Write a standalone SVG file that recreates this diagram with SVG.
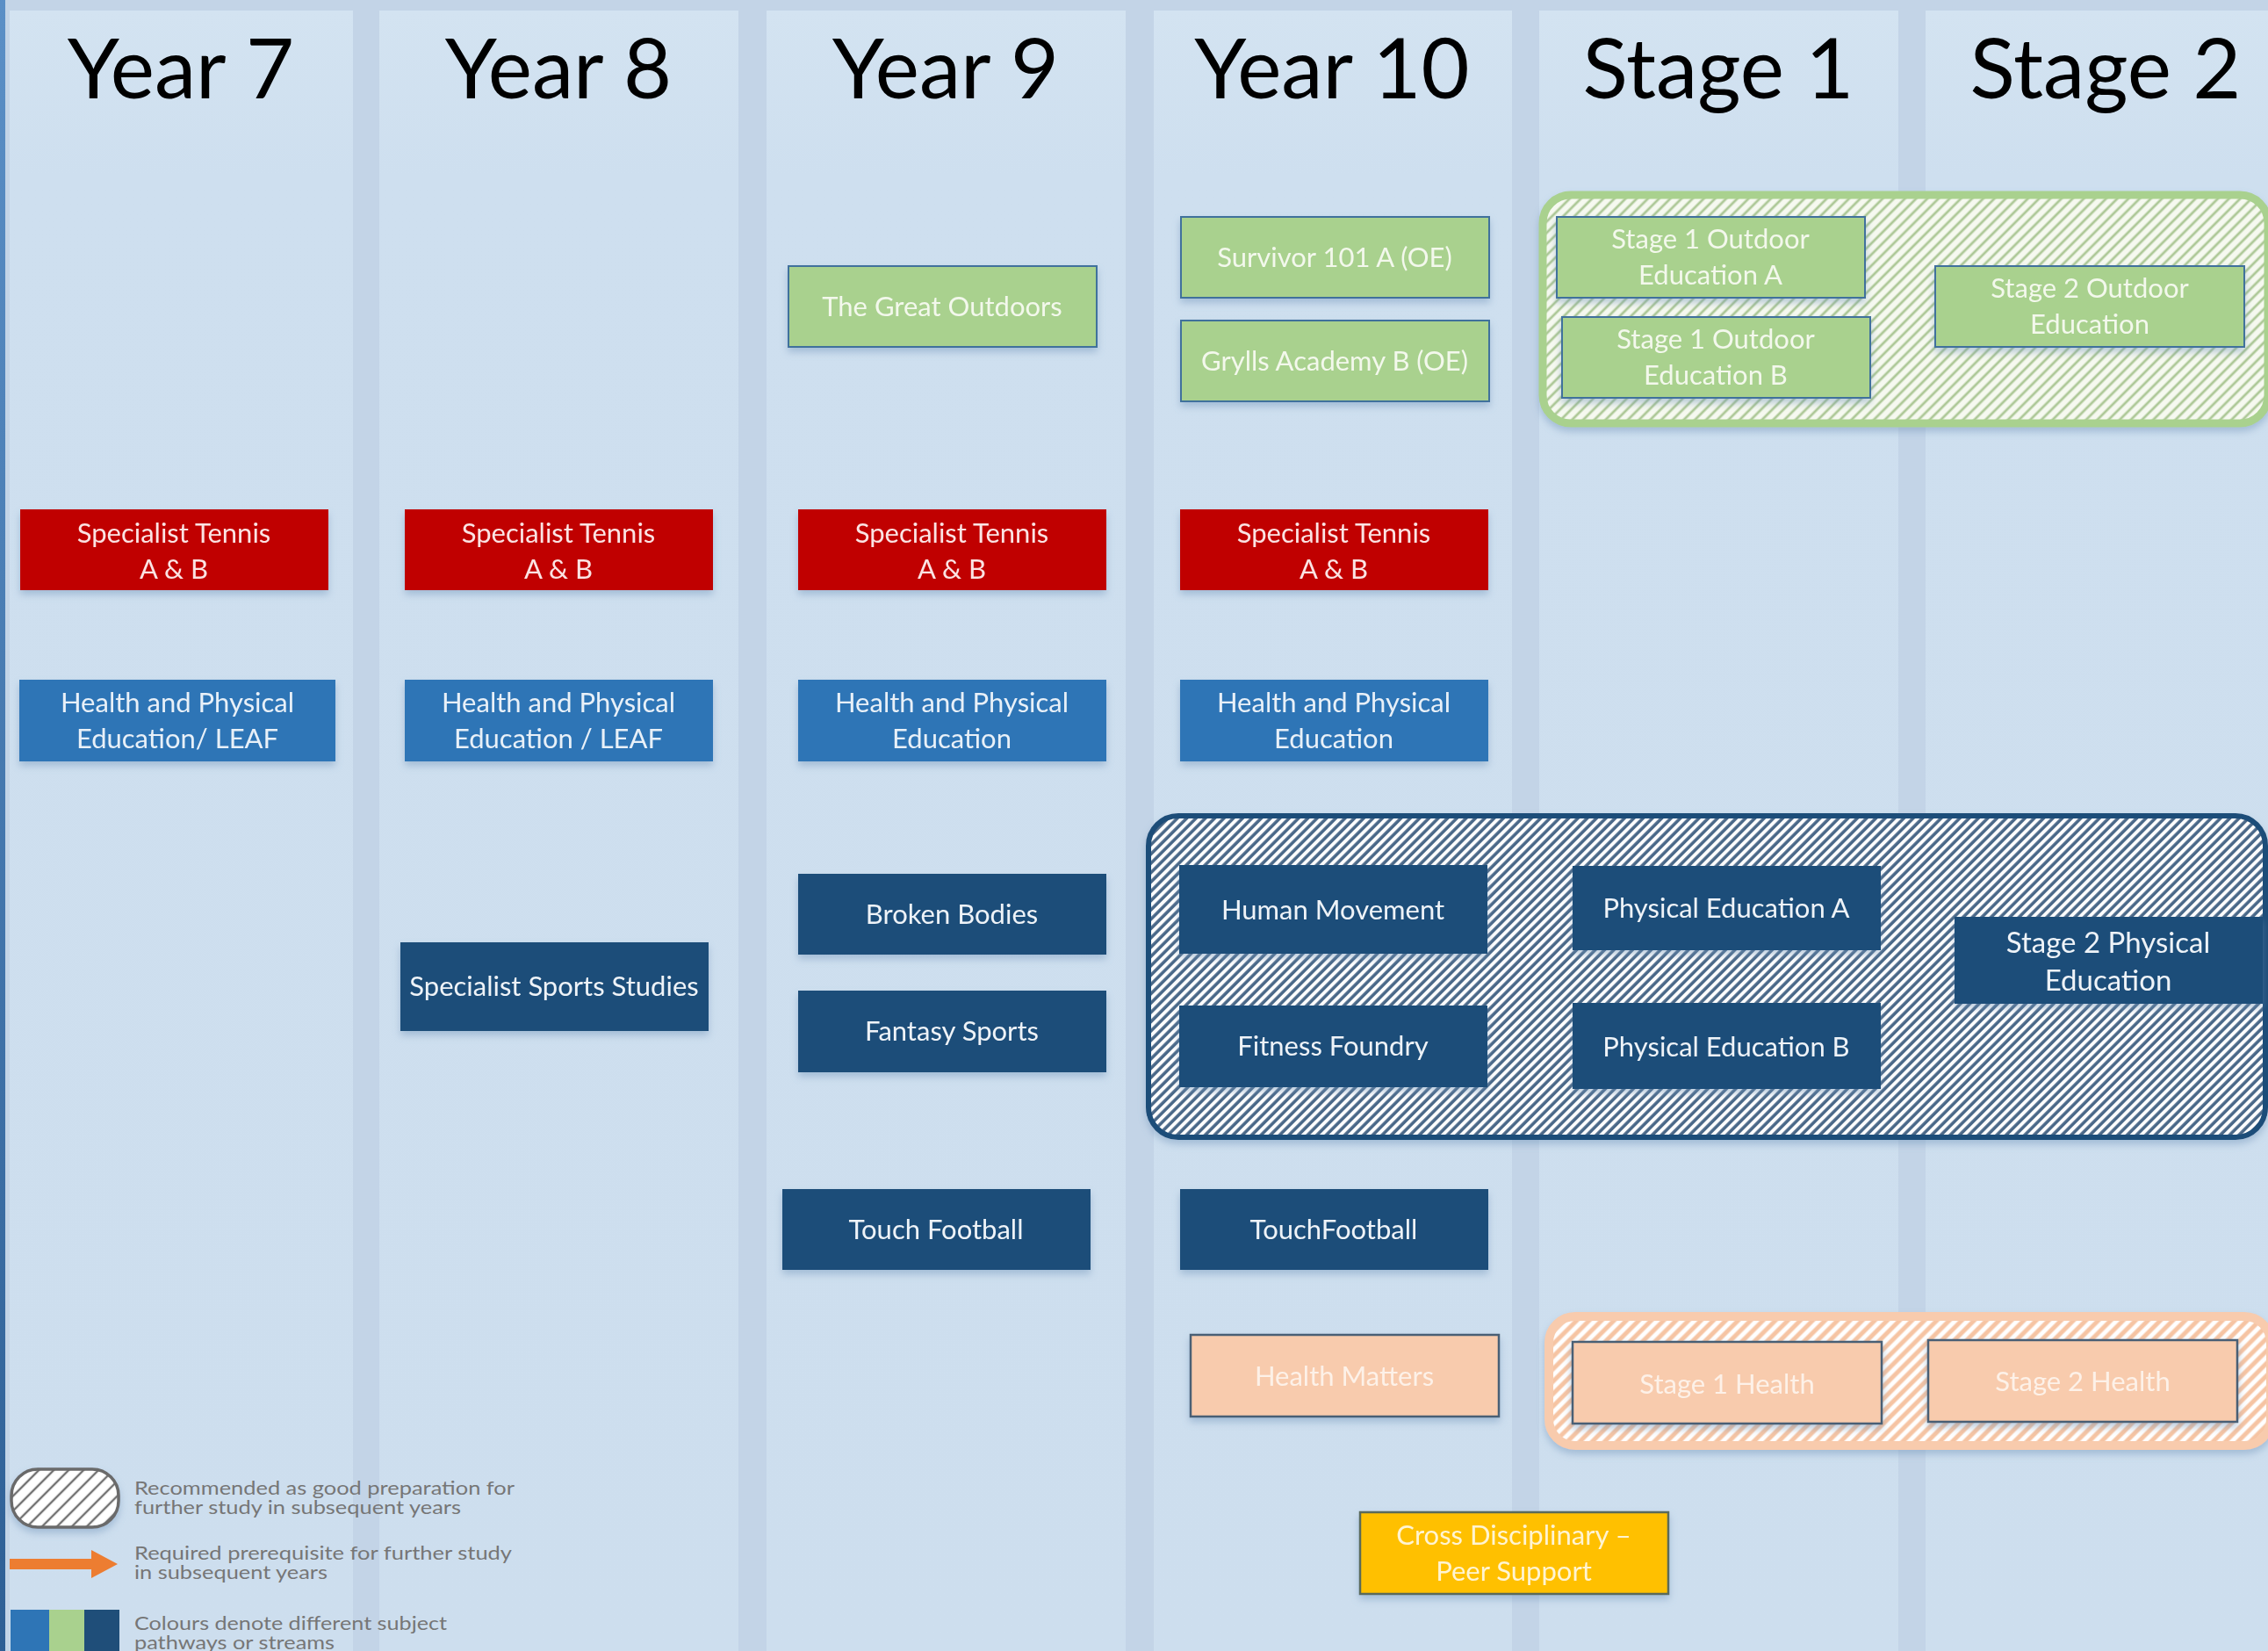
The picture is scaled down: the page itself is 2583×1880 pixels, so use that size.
<svg xmlns="http://www.w3.org/2000/svg" width="2583" height="1880" viewBox="0 0 2583 1880">
<defs>
  <style>
    .col { fill: url(#colGrad); }
    .hdr { font-family: Lato, "Open Sans", sans-serif; font-size: 95px; fill: #000; text-anchor: middle; }
    .bx text { font-family: Lato, "Open Sans", sans-serif; font-size: 31px; text-anchor: middle; }
    .red rect { fill: #c00000; }
    .red text { fill: #fbe3e3; }
    .mid rect { fill: #2e75b6; }
    .mid text { fill: #e8f0f8; }
    .dark rect { fill: #1f4e79; }
    .dark text { fill: #eef3f8; }
    .grn rect { fill: #a9d18e; stroke: #41719c; stroke-width: 2; }
    .grn text { fill: #f3f8ec; }
    .pch rect { fill: #f8cbad; stroke: #4a5f75; stroke-width: 2.5; }
    .pch text { fill: #fdf1e8; }
    .yel rect { fill: #ffc000; stroke: #5a6a5a; stroke-width: 2.5; }
    .yel text { fill: #fff4d2; }
    .leg { font-family: Lato, "Open Sans", sans-serif; font-size: 21px; fill: #767676; }
  </style>
  <linearGradient id="colGrad" x1="0" y1="0" x2="0" y2="1">
    <stop offset="0" stop-color="#d3e3f1"/>
    <stop offset="0.1" stop-color="#cedfef"/>
    <stop offset="1" stop-color="#cddeee"/>
  </linearGradient>
  <linearGradient id="edgeGrad" x1="0" y1="0" x2="0" y2="1">
    <stop offset="0" stop-color="#5b8fc6"/>
    <stop offset="1" stop-color="#2e5f95"/>
  </linearGradient>
  <filter id="sh" x="-10%" y="-20%" width="120%" height="150%">
    <feDropShadow dx="0" dy="5" stdDeviation="4" flood-color="#6f93b8" flood-opacity="0.45"/>
  </filter>
  <pattern id="hatchBlue" patternUnits="userSpaceOnUse" width="7.5" height="7.5" patternTransform="rotate(45)">
    <rect width="7.5" height="7.5" fill="#ffffff"/>
    <line x1="2" y1="0" x2="2" y2="7.5" stroke="#4a6788" stroke-width="3.6"/>
  </pattern>
  <pattern id="hatchGreen" patternUnits="userSpaceOnUse" width="9" height="9" patternTransform="rotate(45)">
    <rect width="9" height="9" fill="#f6f9f0"/>
    <line x1="2" y1="0" x2="2" y2="9" stroke="#adc897" stroke-width="2.8"/>
  </pattern>
  <pattern id="hatchPeach" patternUnits="userSpaceOnUse" width="10" height="10" patternTransform="rotate(45)">
    <rect width="10" height="10" fill="#ffffff"/>
    <line x1="3" y1="0" x2="3" y2="10" stroke="#f6c4a3" stroke-width="5"/>
  </pattern>
  <pattern id="hatchGray" patternUnits="userSpaceOnUse" width="12" height="12" patternTransform="rotate(45)">
    <rect width="12" height="12" fill="#ffffff"/>
    <line x1="3" y1="0" x2="3" y2="12" stroke="#707070" stroke-width="2.4"/>
  </pattern>
</defs>

<!-- page background -->
<rect x="0" y="0" width="2583" height="1880" fill="#c3d4e7"/>
<rect x="0" y="0" width="6" height="1880" fill="url(#edgeGrad)"/>

<!-- columns -->
<g id="columns">
  <rect class="col" x="11" y="12" width="391" height="1868"/>
  <rect class="col" x="432" y="12" width="409" height="1868"/>
  <rect class="col" x="873" y="12" width="409" height="1868"/>
  <rect class="col" x="1314" y="12" width="408" height="1868"/>
  <rect class="col" x="1753" y="12" width="409" height="1868"/>
  <rect class="col" x="2193" y="12" width="390" height="1868"/>
</g>

<!-- headers -->
<g id="headers">
  <text class="hdr" x="206" y="112">Year 7</text>
  <text class="hdr" x="636" y="112">Year 8</text>
  <text class="hdr" x="1077" y="112">Year 9</text>
  <text class="hdr" x="1517" y="112">Year 10</text>
  <text class="hdr" x="1957" y="112">Stage 1</text>
  <text class="hdr" x="2398" y="112">Stage 2</text>
</g>

<!-- group containers -->
<g id="group-outdoor">
  <rect x="1757" y="222" width="826" height="260" rx="32" fill="url(#hatchGreen)" stroke="#a9d18e" stroke-width="9" filter="url(#sh)"/>
</g>
<g id="group-pe">
  <rect x="1308" y="929" width="1272" height="366" rx="34" fill="url(#hatchBlue)" stroke="#1f4e79" stroke-width="6" filter="url(#sh)"/>
</g>
<g id="group-health">
  <rect x="1764" y="1499" width="822" height="147" rx="30" fill="url(#hatchPeach)" stroke="#f8cbad" stroke-width="10" filter="url(#sh)"/>
</g>

<!-- green outdoor nodes -->
<g id="n-great-outdoors" class="bx grn" filter="url(#sh)">
  <rect x="898" y="303" width="351" height="92"/>
  <text x="1073" y="360">The Great Outdoors</text>
</g>
<g id="n-survivor" class="bx grn" filter="url(#sh)">
  <rect x="1345" y="247" width="351" height="92"/>
  <text x="1520" y="304">Survivor 101 A (OE)</text>
</g>
<g id="n-grylls" class="bx grn" filter="url(#sh)">
  <rect x="1345" y="365" width="351" height="92"/>
  <text x="1520" y="422">Grylls Academy B (OE)</text>
</g>
<g id="n-s1-outdoor-a" class="bx grn" filter="url(#sh)">
  <rect x="1773" y="247" width="351" height="92"/>
  <text x="1948" y="283">Stage 1 Outdoor</text>
  <text x="1948" y="324">Education A</text>
</g>
<g id="n-s1-outdoor-b" class="bx grn" filter="url(#sh)">
  <rect x="1779" y="361" width="351" height="92"/>
  <text x="1954" y="397">Stage 1 Outdoor</text>
  <text x="1954" y="438">Education B</text>
</g>
<g id="n-s2-outdoor" class="bx grn" filter="url(#sh)">
  <rect x="2204" y="303" width="352" height="92"/>
  <text x="2380" y="339">Stage 2 Outdoor</text>
  <text x="2380" y="380">Education</text>
</g>

<!-- red tennis nodes -->
<g id="n-tennis-7" class="bx red" filter="url(#sh)">
  <rect x="23" y="580" width="351" height="92"/>
  <text x="198" y="618">Specialist Tennis</text>
  <text x="198" y="659">A &amp; B</text>
</g>
<g id="n-tennis-8" class="bx red" filter="url(#sh)">
  <rect x="461" y="580" width="351" height="92"/>
  <text x="636" y="618">Specialist Tennis</text>
  <text x="636" y="659">A &amp; B</text>
</g>
<g id="n-tennis-9" class="bx red" filter="url(#sh)">
  <rect x="909" y="580" width="351" height="92"/>
  <text x="1084" y="618">Specialist Tennis</text>
  <text x="1084" y="659">A &amp; B</text>
</g>
<g id="n-tennis-10" class="bx red" filter="url(#sh)">
  <rect x="1344" y="580" width="351" height="92"/>
  <text x="1519" y="618">Specialist Tennis</text>
  <text x="1519" y="659">A &amp; B</text>
</g>

<!-- medium blue HPE nodes -->
<g id="n-hpe-7" class="bx mid" filter="url(#sh)">
  <rect x="22" y="774" width="360" height="93"/>
  <text x="202" y="811">Health and Physical</text>
  <text x="202" y="852">Education/ LEAF</text>
</g>
<g id="n-hpe-8" class="bx mid" filter="url(#sh)">
  <rect x="461" y="774" width="351" height="93"/>
  <text x="636" y="811">Health and Physical</text>
  <text x="636" y="852">Education / LEAF</text>
</g>
<g id="n-hpe-9" class="bx mid" filter="url(#sh)">
  <rect x="909" y="774" width="351" height="93"/>
  <text x="1084" y="811">Health and Physical</text>
  <text x="1084" y="852">Education</text>
</g>
<g id="n-hpe-10" class="bx mid" filter="url(#sh)">
  <rect x="1344" y="774" width="351" height="93"/>
  <text x="1519" y="811">Health and Physical</text>
  <text x="1519" y="852">Education</text>
</g>

<!-- dark blue nodes -->
<g id="n-sports-studies" class="bx dark" filter="url(#sh)">
  <rect x="456" y="1073" width="351" height="101"/>
  <text x="631" y="1134">Specialist Sports Studies</text>
</g>
<g id="n-broken-bodies" class="bx dark" filter="url(#sh)">
  <rect x="909" y="995" width="351" height="92"/>
  <text x="1084" y="1052">Broken Bodies</text>
</g>
<g id="n-fantasy-sports" class="bx dark" filter="url(#sh)">
  <rect x="909" y="1128" width="351" height="93"/>
  <text x="1084" y="1185">Fantasy Sports</text>
</g>
<g id="n-touch-9" class="bx dark" filter="url(#sh)">
  <rect x="891" y="1354" width="351" height="92"/>
  <text x="1066" y="1411">Touch Football</text>
</g>
<g id="n-touch-10" class="bx dark" filter="url(#sh)">
  <rect x="1344" y="1354" width="351" height="92"/>
  <text x="1519" y="1411">TouchFootball</text>
</g>
<g id="n-human-movement" class="bx dark" filter="url(#sh)">
  <rect x="1343" y="985" width="351" height="101"/>
  <text x="1518" y="1047">Human Movement</text>
</g>
<g id="n-fitness-foundry" class="bx dark" filter="url(#sh)">
  <rect x="1343" y="1145" width="351" height="93"/>
  <text x="1518" y="1202">Fitness Foundry</text>
</g>
<g id="n-pe-a" class="bx dark" filter="url(#sh)">
  <rect x="1791" y="986" width="351" height="96"/>
  <text x="1966" y="1045">Physical Education A</text>
</g>
<g id="n-pe-b" class="bx dark" filter="url(#sh)">
  <rect x="1791" y="1142" width="351" height="98"/>
  <text x="1966" y="1203">Physical Education B</text>
</g>
<g id="n-s2-pe" class="bx dark" filter="url(#sh)">
  <rect x="2226" y="1044" width="351" height="99"/>
  <text x="2401" y="1085" style="font-size:33px">Stage 2 Physical</text>
  <text x="2401" y="1128" style="font-size:33px">Education</text>
</g>

<!-- peach health nodes -->
<g id="n-health-matters" class="bx pch" filter="url(#sh)">
  <rect x="1356" y="1520" width="351" height="93"/>
  <text x="1531" y="1578">Health Matters</text>
</g>
<g id="n-s1-health" class="bx pch" filter="url(#sh)">
  <rect x="1791" y="1528" width="352" height="93"/>
  <text x="1967" y="1587">Stage 1 Health</text>
</g>
<g id="n-s2-health" class="bx pch" filter="url(#sh)">
  <rect x="2196" y="1526" width="352" height="93"/>
  <text x="2372" y="1584">Stage 2 Health</text>
</g>

<!-- yellow -->
<g id="n-peer-support" class="bx yel" filter="url(#sh)">
  <rect x="1549" y="1722" width="351" height="93"/>
  <text x="1724" y="1759">Cross Disciplinary –</text>
  <text x="1724" y="1800">Peer Support</text>
</g>

<g id="connectors"></g>

<!-- legend -->
<g id="legend">
  <rect x="13" y="1673" width="122" height="66" rx="30" fill="url(#hatchGray)" stroke="#6a6a6a" stroke-width="3.5" filter="url(#sh)"/>
  <text class="leg" x="153" y="1702" textLength="433" lengthAdjust="spacingAndGlyphs">Recommended as good preparation for</text>
  <text class="leg" x="153" y="1724" textLength="372" lengthAdjust="spacingAndGlyphs">further study in subsequent years</text>
  <path d="M11 1775 H104 V1765 L134 1781 L104 1797 V1787 H11 Z" fill="#ed7d31"/>
  <text class="leg" x="153" y="1776" textLength="430" lengthAdjust="spacingAndGlyphs">Required prerequisite for further study</text>
  <text class="leg" x="153" y="1798" textLength="220" lengthAdjust="spacingAndGlyphs">in subsequent years</text>
  <rect x="12" y="1833" width="44" height="47" fill="#2e75b6"/>
  <rect x="56" y="1833" width="40" height="47" fill="#a9d18e"/>
  <rect x="96" y="1833" width="40" height="47" fill="#1f4e79"/>
  <text class="leg" x="153" y="1856" textLength="356" lengthAdjust="spacingAndGlyphs">Colours denote different subject</text>
  <text class="leg" x="153" y="1878" textLength="228" lengthAdjust="spacingAndGlyphs">pathways or streams</text>
</g>
</svg>
